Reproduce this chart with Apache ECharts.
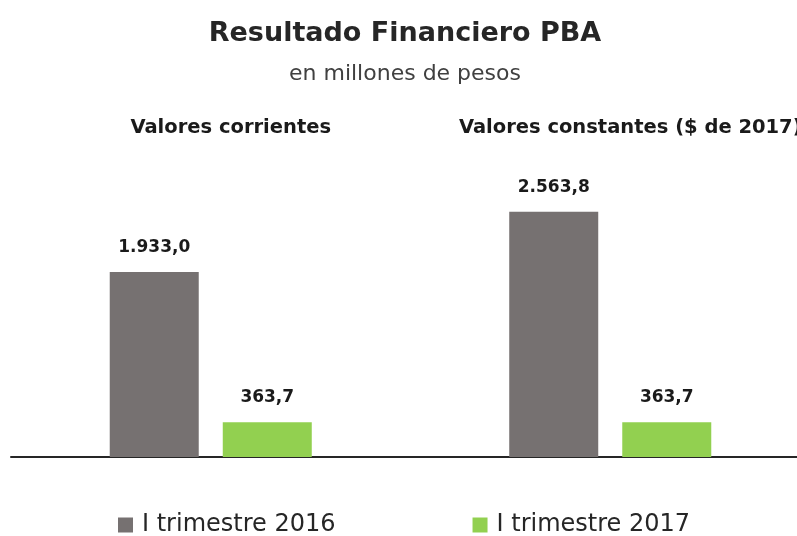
<!DOCTYPE html>
<html>
<head>
<meta charset="utf-8">
<script src="https://cdn.jsdelivr.net/npm/echarts@6/dist/echarts.min.js"></script>
<style>
  html, body { margin: 0; padding: 0; background: #fff; overflow: hidden; }
  /* el grafico original esta recortado por la derecha */
  #chart { width: 810px; height: 536px; }
</style>
</head>
<body>
<div id="chart"></div>
<script>
  // datos
  const categorias = ['Valores corrientes', 'Valores constantes ($ de 2017)']
  const serie2016 = [1933.0, 2563.8]
  const serie2017 = [363.7, 363.7]
  const nombres = ['I trimestre 2016', 'I trimestre 2017']
  const colores = ['#767171', '#92D050']

  const fuente = '"DejaVu Sans", sans-serif'

  // formato 1.933,0
  function fmt (v) {
    let p = v.toFixed(1).split('.')
    return p[0].replace(/\B(?=(\d{3})+(?!\d))/g, '.') + ',' + p[1]
  }

  let myChart = echarts.init(document.getElementById('chart'))
  let series = [serie2016, serie2017].map((data, i) => ({
    name: nombres[i],
    type: 'bar',
    barWidth: 89,
    barGap: '27%',
    itemStyle: { color: colores[i] },
    label: {
      show: true,
      position: 'top',
      distance: 16,
      fontFamily: fuente,
      fontWeight: 'bold',
      fontSize: 17,
      color: '#1a1a1a',
      formatter: p => fmt(p.value)
    },
    data: data
  }))

  let option = {
    animation: false,
    title: {
      text: 'Resultado Financiero PBA',
      subtext: 'en millones de pesos',
      left: 'center',
      top: 15,
      itemGap: 16,
      textStyle: { fontFamily: fuente, fontWeight: 'bold', fontSize: 27, color: '#262626' },
      subtextStyle: { fontFamily: fuente, fontSize: 22, color: '#404040' }
    },
    legend: {
      data: nombres,
      top: 508,
      left: 113,
      itemWidth: 15,
      itemHeight: 15,
      itemGap: 137,
      icon: 'rect',
      textStyle: { fontFamily: fuente, fontSize: 24, color: '#262626', padding: [0, 0, 0, 4] }
    },
    grid: {
      left: 11,
      right: 0,
      top: 170,
      height: 287,
      containLabel: false
    },
    xAxis: [{
      type: 'category',
      data: categorias,
      axisLine: { lineStyle: { color: '#262626', width: 2 } },
      axisTick: { show: false },
      axisLabel: { show: false }
    }, {
      type: 'category',
      position: 'top',
      data: categorias,
      axisLine: { show: false },
      axisTick: { show: false },
      axisLabel: {
        interval: 0,
        margin: 32,
        padding: [0, 0, 0, 40],
        fontFamily: fuente,
        fontWeight: 'bold',
        fontSize: 19.5,
        color: '#1a1a1a'
      }
    }],
    yAxis: {
      type: 'value',
      min: 0,
      max: 3000,
      show: false,
      splitLine: { show: false }
    },
    series: series
  }
  myChart.setOption(option)
</script>
</body>
</html>
